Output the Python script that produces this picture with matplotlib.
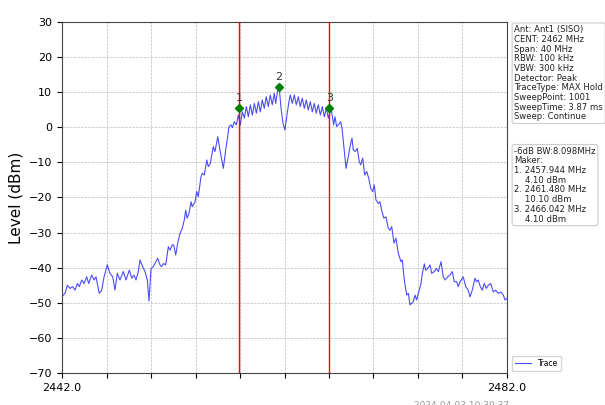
import numpy as np
import matplotlib
matplotlib.use("Agg")
import matplotlib.pyplot as plt

#- Trace (MHz, dBm)
freq = [2442.06, 2442.27, 2442.48, 2442.72, 2442.96, 2443.17, 2443.38, 2443.56, 2443.77, 2443.98,
        2444.22, 2444.40, 2444.67, 2444.88, 2445.06, 2445.17, 2445.35, 2445.57, 2445.78, 2446.07,
        2446.31, 2446.56, 2446.76, 2446.97, 2447.21, 2447.51, 2447.75, 2448.05, 2448.27, 2448.47,
        2448.65, 2448.86, 2449.01, 2449.25, 2449.46, 2449.67, 2449.82, 2450.00, 2450.21, 2450.36,
        2450.60, 2450.81, 2450.96, 2451.11, 2451.32, 2451.56, 2451.71, 2451.91, 2452.04, 2452.22,
        2452.40, 2452.61, 2452.81, 2452.99, 2453.12, 2453.24, 2453.42, 2453.60, 2453.71, 2453.96,
        2454.11, 2454.25, 2454.49, 2454.61, 2454.79, 2455.01, 2455.15, 2455.33, 2455.60, 2455.75,
        2456.00, 2456.20, 2456.50, 2456.71, 2456.89, 2457.01, 2457.19, 2457.31, 2457.49, 2457.67,
        2457.85, 2458.03, 2458.21, 2458.39, 2458.57, 2458.75, 2458.93, 2459.11, 2459.29, 2459.47,
        2459.65, 2459.83, 2460.00, 2460.18, 2460.36, 2460.54, 2460.72, 2460.90, 2461.08, 2461.21,
        2461.39, 2461.53, 2461.69, 2461.87, 2462.04, 2462.22, 2462.40, 2462.52, 2462.70, 2462.88,
        2463.06, 2463.24, 2463.42, 2463.60, 2463.78, 2463.96, 2464.14, 2464.32, 2464.50, 2464.68,
        2464.85, 2465.04, 2465.22, 2465.40, 2465.58, 2465.76, 2465.94, 2466.18, 2466.42, 2466.54,
        2466.69, 2466.84, 2467.05, 2467.17, 2467.35, 2467.53, 2467.73, 2467.95, 2468.07, 2468.18,
        2468.36, 2468.54, 2468.72, 2468.85, 2469.03, 2469.21, 2469.39, 2469.57, 2469.75, 2469.93,
        2470.07, 2470.22, 2470.43, 2470.58, 2470.76, 2470.94, 2471.12, 2471.33, 2471.48, 2471.64,
        2471.84, 2472.02, 2472.23, 2472.47, 2472.59, 2472.77, 2472.98, 2473.13, 2473.28, 2473.43,
        2473.58, 2473.73, 2473.88, 2474.03, 2474.27, 2474.39, 2474.57, 2474.69, 2474.87, 2475.08,
        2475.23, 2475.47, 2475.65, 2475.83, 2476.07, 2476.27, 2476.43, 2476.67, 2476.88, 2477.08,
        2477.26, 2477.48, 2477.62, 2477.78, 2478.07, 2478.29, 2478.52, 2478.67, 2478.88, 2479.12,
        2479.27, 2479.42, 2479.60, 2479.78, 2479.96, 2480.14, 2480.32, 2480.53, 2480.77, 2480.98,
        2481.22, 2481.46, 2481.67, 2481.82, 2482.00]
level = [-48.0, -47.3, -45.0, -45.9, -45.4, -46.4, -44.5, -45.4, -43.5, -44.5,
         -42.6, -44.5, -42.1, -43.5, -42.6, -44.5, -47.3, -46.4, -42.6, -39.2,
         -41.6, -42.6, -46.4, -41.6, -43.5, -41.1, -43.5, -40.7, -43.0, -42.1,
         -43.5, -41.1, -37.8, -39.7, -41.1, -43.5, -49.5, -40.2, -39.7, -38.8,
         -37.3, -39.2, -39.7, -38.8, -39.2, -34.0, -35.0, -33.5, -33.5, -36.4,
         -33.0, -30.2, -28.8, -26.4, -23.6, -25.9, -24.5, -21.2, -22.6, -21.2,
         -18.3, -19.8, -14.1, -13.1, -13.6, -9.3, -11.2, -10.3, -5.5, -6.9,
         -2.7, -6.5, -11.7, -6.5, -2.7, 0.2, 0.7, -0.1, 1.6, 0.7,
         3.5, 0.7, 4.4, 2.6, 5.9, 3.0, 6.4, 3.5, 6.8, 4.0,
         7.3, 4.4, 7.8, 5.4, 8.7, 5.9, 9.2, 6.4, 9.7, 6.8,
         10.6, 11.1, 5.4, 1.1, -0.8, 3.5, 7.3, 9.2, 6.8, 9.2,
         6.4, 8.7, 5.9, 8.3, 5.4, 7.8, 4.9, 7.3, 4.4, 6.8,
         4.0, 6.4, 3.5, 5.9, 3.0, 5.4, 2.6, 5.4, 0.7, 3.0,
         0.2, 0.7, 1.6, -0.3, -6.0, -11.7, -8.4, -4.6, -3.1, -6.5,
         -6.9, -6.0, -9.8, -10.7, -8.8, -13.6, -12.6, -14.5, -17.4, -18.3,
         -16.4, -20.7, -21.7, -21.2, -24.0, -25.9, -25.5, -28.8, -29.3, -28.3,
         -33.0, -31.6, -35.9, -38.3, -37.8, -43.5, -47.8, -47.3, -50.6, -50.1,
         -49.7, -47.8, -49.2, -47.3, -44.5, -41.6, -38.9, -40.7, -40.2, -39.2,
         -41.6, -41.1, -40.2, -41.1, -38.3, -42.6, -43.5, -42.6, -42.1, -41.1,
         -44.0, -44.0, -45.4, -44.0, -42.6, -45.4, -46.4, -48.3, -46.4, -43.0,
         -44.0, -43.5, -45.4, -46.4, -44.5, -45.9, -45.0, -44.5, -46.9, -46.4,
         -47.3, -46.9, -47.8, -49.2, -48.7]

#- Markers
mk_freq = [2457.944, 2461.480, 2466.042]
mk_level = [5.6, 11.6, 5.6]
mk_label = ["1", "2", "3"]

info = ["Ant: Ant1 (SISO)", "CENT: 2462 MHz", "Span: 40 MHz", "RBW: 100 kHz",
        "VBW: 300 kHz", "Detector: Peak", "TraceType: MAX Hold",
        "SweepPoint: 1001", "SweepTime: 3.87 ms", "Sweep: Continue"]
marker_info = ["-6dB BW:8.098MHz", "Maker:", "1. 2457.944 MHz", "    4.10 dBm",
               "2. 2461.480 MHz", "    10.10 dBm", "3. 2466.042 MHz", "    4.10 dBm"]
timestamp = "2024-04-03 10:39:37"

fig = plt.figure(figsize=(6.05, 4.05), dpi=100)
ax = fig.add_axes([0.1025, 0.079, 0.7355, 0.8667])

ax.plot(freq, level, color="#0000ff", alpha=0.7, lw=0.8, label="Trace")
for f in (mk_freq[0], mk_freq[2]):
    ax.axvline(f, color="#ff0000", lw=1.0, zorder=3)
ax.plot(mk_freq, mk_level, "D", color="green", ms=4, ls="none", zorder=4)
for f, l, s in zip(mk_freq, mk_level, mk_label):
    ax.text(f, l + 1.2, s, ha="center", va="bottom", fontsize=8, color="#333333")

ax.set_xlim(2442, 2482)
ax.set_ylim(-70, 30)
xt = np.arange(2442, 2483, 4)
ax.set_xticks(xt)
ax.set_xticklabels(["2442.0"] + [""] * (len(xt) - 2) + ["2482.0"])
ax.set_yticks(np.arange(-70, 31, 10))
ax.tick_params(labelsize=8)
ax.grid(True, ls="--", lw=0.5, color="#bbbbbb", zorder=0)
ax.set_axisbelow(True)
ax.set_xlabel("Frequency (MHz)", fontsize=11, labelpad=12)
ax.set_ylabel("Level (dBm)", fontsize=11)
for sp in ax.spines.values():
    sp.set_color("#444444")

box = dict(boxstyle="round,pad=0.25", fc="white", ec="#cccccc", lw=0.8)
fig.text(0.850, 0.938, "\n".join(info), fontsize=6.1, va="top", ha="left",
         color="#222222", bbox=box, linespacing=1.1)
fig.text(0.850, 0.638, "\n".join(marker_info), fontsize=6.1, va="top", ha="left",
         color="#222222", bbox=box, linespacing=1.1)
ax.legend(loc="lower left", bbox_to_anchor=(1.005, 0.0), fontsize=5.5,
          frameon=True, handlelength=2.2, borderaxespad=0.3)
fig.text(0.685, 0.0, timestamp, fontsize=6.5, color="#999999", va="center")

plt.savefig("out.png", dpi=100)
